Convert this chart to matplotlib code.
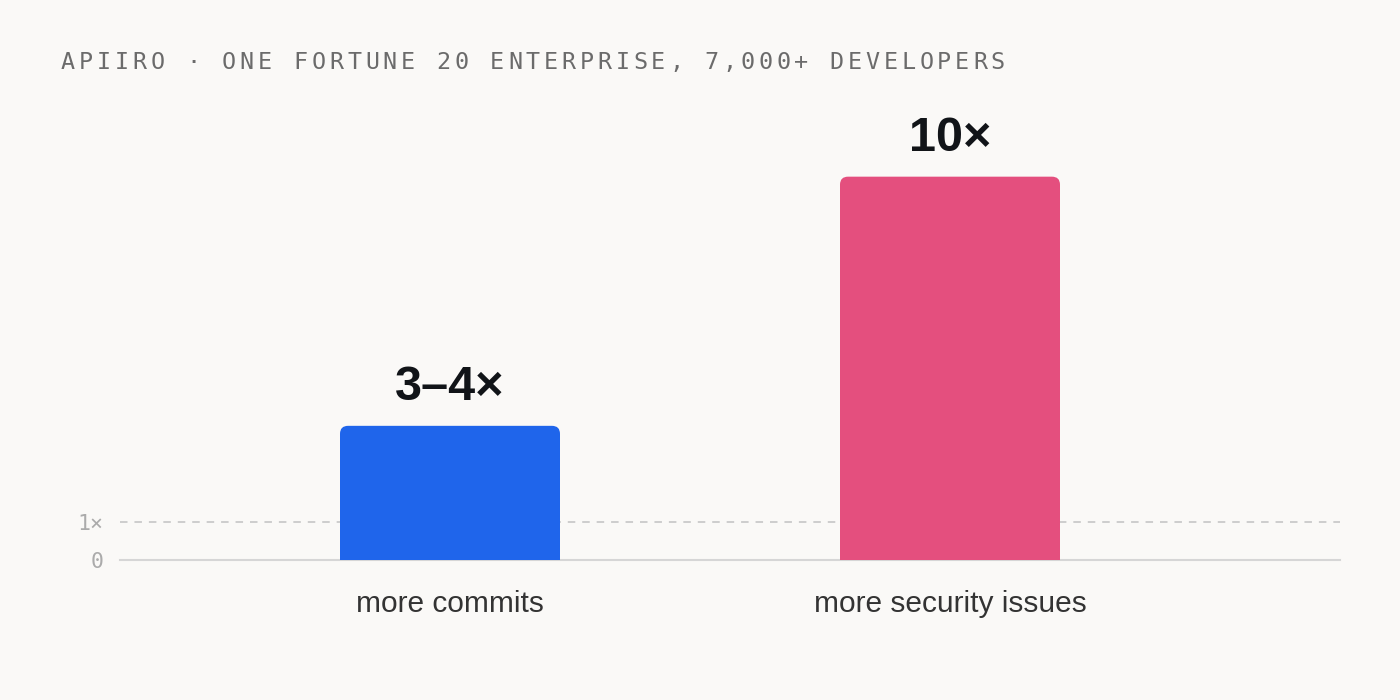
import matplotlib
matplotlib.use("Agg")
import matplotlib.pyplot as plt
from matplotlib.patches import FancyBboxPatch

# data
categories = ["more commits", "more security issues"]
values = [3.5, 10]
value_labels = ["3\u20134\u00d7", "10\u00d7"]
bar_colors = ["#1F65EB", "#E44F7E"]
ref_ticks = [0, 1]
ref_tick_labels = ["0", "1\u00d7"]
title = "APIIRO \u00b7 ONE FORTUNE 20 ENTERPRISE, 7,000+ DEVELOPERS"

BG = "#FAF9F7"
W, H = 1400, 700
plt.rcParams["lines.scale_dashes"] = False

fig = plt.figure(figsize=(14, 7), dpi=100, facecolor=BG)
ax = fig.add_axes([120 / W, 140 / H, 1220 / W, 460 / H])
ax.set_facecolor(BG)
ax.set_xlim(-0.66, 1.78)
ax.set_ylim(0, 12.0)
for s in ax.spines.values():
    s.set_visible(False)

# reference lines
ax.axhline(1, color="#CDCDCD", lw=1.4, dashes=(5.4, 5.0), zorder=1)
ax.axhline(0, color="#D6D6D6", lw=1.5, zorder=1, clip_on=False)

# bars with rounded top corners
xs = list(range(len(categories)))
bars = ax.bar(xs, values, width=0.44, color=bar_colors)
fig.canvas.draw()
px_x = ax.transData.transform((1, 0))[0] - ax.transData.transform((0, 0))[0]
px_y = ax.transData.transform((0, 1))[1] - ax.transData.transform((0, 0))[1]
r = 8 / px_x
for rect, c in zip(bars, bar_colors):
    rect.set_visible(False)
    x0, w, h = rect.get_x(), rect.get_width(), rect.get_height()
    ax.add_patch(FancyBboxPatch((x0, -1), w, h + 1,
                                boxstyle=f"round,pad=0,rounding_size={r}",
                                mutation_aspect=px_x / px_y,
                                facecolor=c, edgecolor="none", zorder=2))

# value labels
for x, v, lab in zip(xs, values, value_labels):
    ax.annotate(lab, (x, v), xytext=(0, 18.7), textcoords="offset points",
                ha="center", va="baseline", fontsize=35, fontweight="bold",
                family="Liberation Sans", color="#111418")

# axes ticks
ax.set_xticks(xs)
ax.set_xticklabels(categories, fontsize=21.5, family="Liberation Sans", color="#333333")
ax.set_yticks(ref_ticks)
ax.set_yticklabels(ref_tick_labels, fontsize=15.5, family="DejaVu Sans Mono", color="#ABABAB")
ax.tick_params(axis="x", length=0, pad=21.5)
ax.tick_params(axis="y", length=0, pad=12)

# letter-spaced monospace header
pitch = 17.88
for i, ch in enumerate(title):
    fig.text((61 + i * pitch) / W, 1 - 69 / H, ch, ha="left", va="baseline",
             fontsize=16.8, family="DejaVu Sans Mono", color="#6B6B6B")

fig.savefig("out.png", dpi=100, facecolor=BG)
